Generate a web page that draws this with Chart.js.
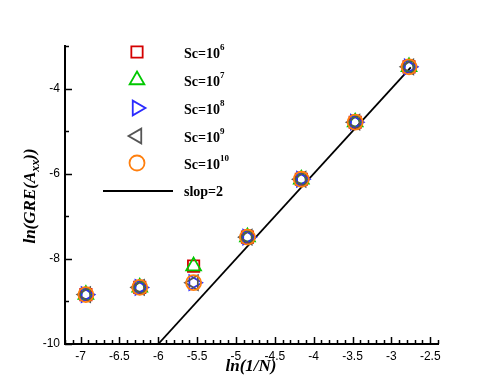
<!DOCTYPE html>
<html>
<head>
<meta charset="utf-8">
<script src="https://cdn.jsdelivr.net/npm/chart.js@4.4.1/dist/chart.umd.min.js"></script>
<style>
  html, body { margin: 0; padding: 0; background: #fff; }
</style>
</head>
<body>
<canvas id="grafico" width="498" height="388"></canvas>
<script>
// ln(1/N) for N = 1024 ... 16
const lnInvN = [-6.931, -6.238, -5.545, -4.852, -4.159, -3.466, -2.773];
const sc6  = [-8.84, -8.67, -8.17, -7.49, -6.13, -4.79, -3.49];
const sc7  = [-8.84, -8.67, -8.17, -7.49, -6.13, -4.79, -3.49];
const sc8  = [-8.84, -8.67, -8.56, -7.49, -6.13, -4.79, -3.49];
const sc9  = [-8.84, -8.67, -8.56, -7.49, -6.13, -4.79, -3.49];
const sc10 = [-8.84, -8.67, -8.56, -7.49, -6.13, -4.79, -3.49];
const slopX = [-6, -2.75];
const slopY = [-10, -3.5];
const expoentes = ["6", "7", "8", "9", "10"];
const slopLabel = "slop=2";
const xTicks = [-7, -6.5, -6, -5.5, -5, -4.5, -4, -3.5, -3, -2.5];
const yTicks = [-10, -8, -6, -4];

const pontos = (ys) => lnInvN.map((x, i) => ({ x: x, y: ys[i] }));

const estilos = [
  { data: sc6,  cor: "#d40000", forma: "rect",     rot: 0,   raio: 8 },
  { data: sc7,  cor: "#00c800", forma: "triangle", rot: 0,   raio: 8.5 },
  { data: sc8,  cor: "#2a2aff", forma: "triangle", rot: 90,  raio: 8.5 },
  { data: sc9,  cor: "#555555", forma: "triangle", rot: -90, raio: 8.5 },
  { data: sc10, cor: "#ff7f0e", forma: "circle",   rot: 0,   raio: 7.5 }
];

const datasets = estilos.map((s, i) => ({
  label: "Sc=10^" + expoentes[i],
  data: pontos(s.data),
  showLine: false,
  pointStyle: s.forma,
  pointRotation: s.rot,
  pointRadius: s.raio,
  pointBorderColor: s.cor,
  pointBackgroundColor: "rgba(0,0,0,0)",
  pointBorderWidth: 1.8,
  order: 10 - i
}));

datasets.push({
  label: slopLabel,
  data: slopX.map((x, i) => ({ x: x, y: slopY[i] })),
  showLine: true,
  borderColor: "#000",
  borderWidth: 1.8,
  pointRadius: 0,
  order: 20
});

function desenhaMarcador(ctx, s, x, y) {
  if (Chart.helpers && Chart.helpers.drawPoint) {
    ctx.save();
    ctx.strokeStyle = s.cor;
    ctx.fillStyle = "rgba(0,0,0,0)";
    ctx.lineWidth = 1.8;
    Chart.helpers.drawPoint(ctx, { pointStyle: s.forma, rotation: s.rot, radius: s.raio, borderWidth: 1.8 }, x, y);
    ctx.restore();
  }
}

const eixosPlugin = {
  id: "eixos",
  afterDraw(chart) {
    const ctx = chart.ctx;
    const xs = chart.scales.x, ys = chart.scales.y;
    const area = chart.chartArea;
    ctx.save();
    ctx.strokeStyle = "#000";
    ctx.lineWidth = 1.5;
    // x ticks pointing inward
    for (let v = -7.2; v <= -2.39; v += 0.1) {
      const val = Math.round(v * 10) / 10;
      const px = Math.round(xs.getPixelForValue(val)) + 0.5;
      const major = Math.abs(val * 2 - Math.round(val * 2)) < 1e-6;
      ctx.beginPath();
      ctx.moveTo(px, area.bottom);
      ctx.lineTo(px, area.bottom - (major ? 7 : 4));
      ctx.stroke();
    }
    // y ticks pointing inward
    for (let v = -10; v <= -3; v += 1) {
      const py = Math.round(ys.getPixelForValue(v)) + 0.5;
      const major = v % 2 === 0;
      ctx.beginPath();
      ctx.moveTo(area.left, py);
      ctx.lineTo(area.left + (major ? 7 : 4), py);
      ctx.stroke();
    }

    // axis titles
    ctx.fillStyle = "#000";
    ctx.textBaseline = "middle";
    ctx.textAlign = "center";
    ctx.font = "italic bold 17px 'Liberation Serif'";
    ctx.fillText("ln(1/N)", 251, 367);

    ctx.translate(31, 196);
    ctx.rotate(-Math.PI / 2);
    const fGrande = "italic bold 17px 'Liberation Serif'";
    const fPequeno = "italic bold 12px 'Liberation Serif'";
    ctx.font = fGrande;
    const a = "ln(GRE(A", c = "))";
    const wa = ctx.measureText(a).width, wc = ctx.measureText(c).width;
    ctx.font = fPequeno;
    const wb = ctx.measureText("xx").width;
    let x0 = -(wa + wb + wc) / 2;
    ctx.textAlign = "left";
    ctx.font = fGrande;
    ctx.fillText(a, x0, 0);
    ctx.font = fPequeno;
    ctx.fillText("xx", x0 + wa, 5);
    ctx.font = fGrande;
    ctx.fillText(c, x0 + wa + wb, 0);
    ctx.restore();

    // legend
    ctx.save();
    const linhas = [52, 80, 108, 136, 163];
    estilos.forEach((s, i) => {
      desenhaMarcador(ctx, s, 137, linhas[i]);
      ctx.fillStyle = "#000";
      ctx.textBaseline = "middle";
      ctx.textAlign = "left";
      ctx.font = "bold 14px 'Liberation Serif'";
      ctx.fillText("Sc=10", 184, linhas[i] + 2);
      const w = ctx.measureText("Sc=10").width;
      ctx.font = "bold 9px 'Liberation Serif'";
      ctx.fillText(expoentes[i], 184 + w, linhas[i] - 4);
    });
    ctx.strokeStyle = "#000";
    ctx.lineWidth = 1.8;
    ctx.beginPath();
    ctx.moveTo(103, 191);
    ctx.lineTo(173, 191);
    ctx.stroke();
    ctx.font = "bold 14px 'Liberation Serif'";
    ctx.fillStyle = "#000";
    ctx.textBaseline = "middle";
    ctx.fillText(slopLabel, 184, 192);
    ctx.restore();
  }
};

new Chart(document.getElementById("grafico"), {
  type: "scatter",
  data: { datasets: datasets },
  options: {
    responsive: false,
    animation: false,
    events: [],
    layout: { padding: { left: 0, right: 60, top: 46, bottom: 0 } },
    plugins: { legend: { display: false }, tooltip: { enabled: false } },
    scales: {
      x: {
        type: "linear",
        min: -7.2,
        max: -2.4,
        afterBuildTicks: (s) => { s.ticks = xTicks.map(v => ({ value: v })); },
        afterFit: (s) => { s.height = 44; },
        border: { display: true, color: "#000", width: 2 },
        grid: { display: false, drawTicks: false },
        ticks: {
          color: "#000",
          padding: 5,
          maxRotation: 0,
          autoSkip: false,
          font: { family: "'Liberation Sans'", size: 12 },
          callback: (v) => String(v)
        }
      },
      y: {
        type: "linear",
        min: -10,
        max: -3,
        afterBuildTicks: (s) => { s.ticks = yTicks.map(v => ({ value: v })); },
        afterFit: (s) => { s.width = 65; },
        border: { display: true, color: "#000", width: 2 },
        grid: { display: false, drawTicks: false },
        ticks: {
          color: "#000",
          padding: 5,
          autoSkip: false,
          font: { family: "'Liberation Sans'", size: 12 },
          callback: (v) => String(v)
        }
      }
    }
  },
  plugins: [eixosPlugin]
});
</script>
</body>
</html>
